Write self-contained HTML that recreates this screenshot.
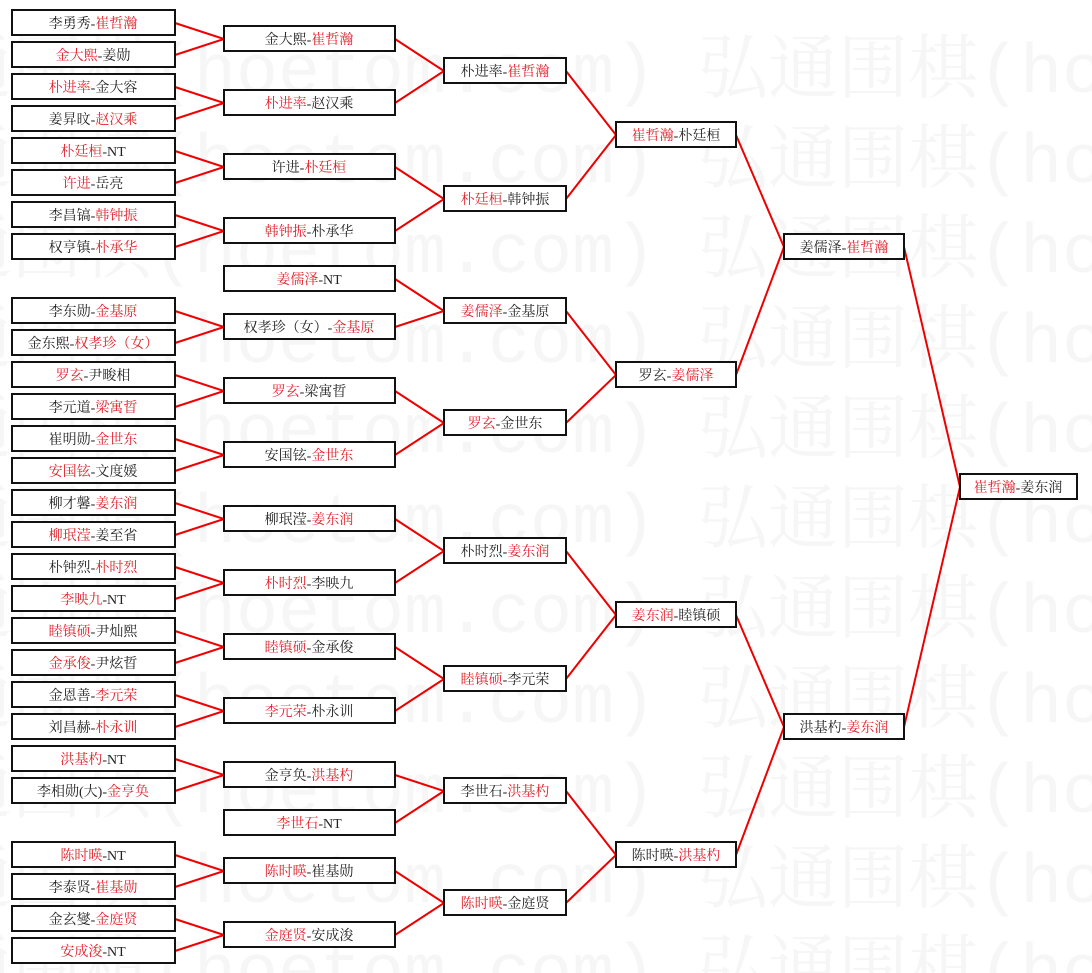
<!DOCTYPE html>
<html><head><meta charset="utf-8"><style>
html,body{margin:0;padding:0;background:#fff;}
svg{display:block;}
.wm{font-family:"Liberation Mono","Noto Serif CJK SC",monospace;font-size:70px;fill:#f6f6f6;}
.t{font-family:"Liberation Serif","Noto Serif CJK SC",serif;font-size:14px;fill:#222;}
.r{fill:#e0202a;}
rect{fill:#fff;stroke:#111;stroke-width:2;}
polyline{fill:none;stroke:#e00;stroke-width:2;}
</style></head><body>
<svg width="1092" height="973" xmlns="http://www.w3.org/2000/svg">
<g class="wm">
<text x="-128" y="92">弘通围棋(hoetom.com) 弘通围棋(hoetom.com)</text>
<text x="-128" y="182">弘通围棋(hoetom.com) 弘通围棋(hoetom.com)</text>
<text x="-128" y="272">弘通围棋(hoetom.com) 弘通围棋(hoetom.com)</text>
<text x="-128" y="362">弘通围棋(hoetom.com) 弘通围棋(hoetom.com)</text>
<text x="-128" y="452">弘通围棋(hoetom.com) 弘通围棋(hoetom.com)</text>
<text x="-128" y="542">弘通围棋(hoetom.com) 弘通围棋(hoetom.com)</text>
<text x="-128" y="632">弘通围棋(hoetom.com) 弘通围棋(hoetom.com)</text>
<text x="-128" y="722">弘通围棋(hoetom.com) 弘通围棋(hoetom.com)</text>
<text x="-128" y="812">弘通围棋(hoetom.com) 弘通围棋(hoetom.com)</text>
<text x="-128" y="902">弘通围棋(hoetom.com) 弘通围棋(hoetom.com)</text>
<text x="-128" y="992">弘通围棋(hoetom.com) 弘通围棋(hoetom.com)</text>
</g>
<g>
<polyline points="175,23 224,39 175,55"/><polyline points="175,87 224,103 175,119"/>
<polyline points="175,151 224,167 175,183"/><polyline points="175,215 224,231 175,247"/>
<polyline points="175,311 224,327 175,343"/><polyline points="175,375 224,391 175,407"/>
<polyline points="175,439 224,455 175,471"/><polyline points="175,503 224,519 175,535"/>
<polyline points="175,567 224,583 175,599"/><polyline points="175,631 224,647 175,663"/>
<polyline points="175,695 224,711 175,727"/><polyline points="175,759 224,775 175,791"/>
<polyline points="175,855 224,871 175,887"/><polyline points="175,919 224,935 175,951"/>
<polyline points="395,39 444,71 395,103"/><polyline points="395,167 444,199 395,231"/>
<polyline points="395,279 444,311 395,327"/><polyline points="395,391 444,423 395,455"/>
<polyline points="395,519 444,551 395,583"/><polyline points="395,647 444,679 395,711"/>
<polyline points="395,775 444,791 395,823"/><polyline points="395,871 444,903 395,935"/>
<polyline points="566,71 616,135 566,199"/><polyline points="566,311 616,375 566,423"/>
<polyline points="566,551 616,615 566,679"/><polyline points="566,791 616,855 566,903"/>
<polyline points="736,135 784,247 736,375"/><polyline points="736,615 784,727 736,855"/>
<polyline points="904,247 960,487 904,727"/>
</g>
<g class="t" text-anchor="middle">
<rect x="12" y="10" width="163" height="25"/><text x="93" y="28">李勇秀-<tspan class="r">崔哲瀚</tspan></text>
<rect x="12" y="42" width="163" height="25"/><text x="93" y="60"><tspan class="r">金大熙</tspan>-姜勋</text>
<rect x="12" y="74" width="163" height="25"/><text x="93" y="92"><tspan class="r">朴进率</tspan>-金大容</text>
<rect x="12" y="106" width="163" height="25"/><text x="93" y="124">姜昇旼-<tspan class="r">赵汉乘</tspan></text>
<rect x="12" y="138" width="163" height="25"/><text x="93" y="156"><tspan class="r">朴廷桓</tspan>-NT</text>
<rect x="12" y="170" width="163" height="25"/><text x="93" y="188"><tspan class="r">许进</tspan>-岳亮</text>
<rect x="12" y="202" width="163" height="25"/><text x="93" y="220">李昌镐-<tspan class="r">韩钟振</tspan></text>
<rect x="12" y="234" width="163" height="25"/><text x="93" y="252">权亨镇-<tspan class="r">朴承华</tspan></text>
<rect x="12" y="298" width="163" height="25"/><text x="93" y="316">李东勋-<tspan class="r">金基原</tspan></text>
<rect x="12" y="330" width="163" height="25"/><text x="93" y="348">金东熙-<tspan class="r">权孝珍（女）</tspan></text>
<rect x="12" y="362" width="163" height="25"/><text x="93" y="380"><tspan class="r">罗玄</tspan>-尹畯相</text>
<rect x="12" y="394" width="163" height="25"/><text x="93" y="412">李元道-<tspan class="r">梁寓晢</tspan></text>
<rect x="12" y="426" width="163" height="25"/><text x="93" y="444">崔明勋-<tspan class="r">金世东</tspan></text>
<rect x="12" y="458" width="163" height="25"/><text x="93" y="476"><tspan class="r">安国铉</tspan>-文度媛</text>
<rect x="12" y="490" width="163" height="25"/><text x="93" y="508">柳才馨-<tspan class="r">姜东润</tspan></text>
<rect x="12" y="522" width="163" height="25"/><text x="93" y="540"><tspan class="r">柳珉滢</tspan>-姜至省</text>
<rect x="12" y="554" width="163" height="25"/><text x="93" y="572">朴钟烈-<tspan class="r">朴时烈</tspan></text>
<rect x="12" y="586" width="163" height="25"/><text x="93" y="604"><tspan class="r">李映九</tspan>-NT</text>
<rect x="12" y="618" width="163" height="25"/><text x="93" y="636"><tspan class="r">睦镇硕</tspan>-尹灿熙</text>
<rect x="12" y="650" width="163" height="25"/><text x="93" y="668"><tspan class="r">金承俊</tspan>-尹炫晢</text>
<rect x="12" y="682" width="163" height="25"/><text x="93" y="700">金恩善-<tspan class="r">李元荣</tspan></text>
<rect x="12" y="714" width="163" height="25"/><text x="93" y="732">刘昌赫-<tspan class="r">朴永训</tspan></text>
<rect x="12" y="746" width="163" height="25"/><text x="93" y="764"><tspan class="r">洪基杓</tspan>-NT</text>
<rect x="12" y="778" width="163" height="25"/><text x="93" y="796">李相勋(大)-<tspan class="r">金亨奂</tspan></text>
<rect x="12" y="842" width="163" height="25"/><text x="93" y="860"><tspan class="r">陈时暎</tspan>-NT</text>
<rect x="12" y="874" width="163" height="25"/><text x="93" y="892">李泰贤-<tspan class="r">崔基勋</tspan></text>
<rect x="12" y="906" width="163" height="25"/><text x="93" y="924">金玄燮-<tspan class="r">金庭贤</tspan></text>
<rect x="12" y="938" width="163" height="25"/><text x="93" y="956"><tspan class="r">安成浚</tspan>-NT</text>
<rect x="224" y="26" width="171" height="25"/><text x="309" y="44">金大熙-<tspan class="r">崔哲瀚</tspan></text>
<rect x="224" y="90" width="171" height="25"/><text x="309" y="108"><tspan class="r">朴进率</tspan>-赵汉乘</text>
<rect x="224" y="154" width="171" height="25"/><text x="309" y="172">许进-<tspan class="r">朴廷桓</tspan></text>
<rect x="224" y="218" width="171" height="25"/><text x="309" y="236"><tspan class="r">韩钟振</tspan>-朴承华</text>
<rect x="224" y="266" width="171" height="25"/><text x="309" y="284"><tspan class="r">姜儒泽</tspan>-NT</text>
<rect x="224" y="314" width="171" height="25"/><text x="309" y="332">权孝珍（女）-<tspan class="r">金基原</tspan></text>
<rect x="224" y="378" width="171" height="25"/><text x="309" y="396"><tspan class="r">罗玄</tspan>-梁寓晢</text>
<rect x="224" y="442" width="171" height="25"/><text x="309" y="460">安国铉-<tspan class="r">金世东</tspan></text>
<rect x="224" y="506" width="171" height="25"/><text x="309" y="524">柳珉滢-<tspan class="r">姜东润</tspan></text>
<rect x="224" y="570" width="171" height="25"/><text x="309" y="588"><tspan class="r">朴时烈</tspan>-李映九</text>
<rect x="224" y="634" width="171" height="25"/><text x="309" y="652"><tspan class="r">睦镇硕</tspan>-金承俊</text>
<rect x="224" y="698" width="171" height="25"/><text x="309" y="716"><tspan class="r">李元荣</tspan>-朴永训</text>
<rect x="224" y="762" width="171" height="25"/><text x="309" y="780">金亨奂-<tspan class="r">洪基杓</tspan></text>
<rect x="224" y="810" width="171" height="25"/><text x="309" y="828"><tspan class="r">李世石</tspan>-NT</text>
<rect x="224" y="858" width="171" height="25"/><text x="309" y="876"><tspan class="r">陈时暎</tspan>-崔基勋</text>
<rect x="224" y="922" width="171" height="25"/><text x="309" y="940"><tspan class="r">金庭贤</tspan>-安成浚</text>
<rect x="444" y="58" width="122" height="25"/><text x="505" y="76">朴进率-<tspan class="r">崔哲瀚</tspan></text>
<rect x="444" y="186" width="122" height="25"/><text x="505" y="204"><tspan class="r">朴廷桓</tspan>-韩钟振</text>
<rect x="444" y="298" width="122" height="25"/><text x="505" y="316"><tspan class="r">姜儒泽</tspan>-金基原</text>
<rect x="444" y="410" width="122" height="25"/><text x="505" y="428"><tspan class="r">罗玄</tspan>-金世东</text>
<rect x="444" y="538" width="122" height="25"/><text x="505" y="556">朴时烈-<tspan class="r">姜东润</tspan></text>
<rect x="444" y="666" width="122" height="25"/><text x="505" y="684"><tspan class="r">睦镇硕</tspan>-李元荣</text>
<rect x="444" y="778" width="122" height="25"/><text x="505" y="796">李世石-<tspan class="r">洪基杓</tspan></text>
<rect x="444" y="890" width="122" height="25"/><text x="505" y="908"><tspan class="r">陈时暎</tspan>-金庭贤</text>
<rect x="616" y="122" width="120" height="25"/><text x="676" y="140"><tspan class="r">崔哲瀚</tspan>-朴廷桓</text>
<rect x="616" y="362" width="120" height="25"/><text x="676" y="380">罗玄-<tspan class="r">姜儒泽</tspan></text>
<rect x="616" y="602" width="120" height="25"/><text x="676" y="620"><tspan class="r">姜东润</tspan>-睦镇硕</text>
<rect x="616" y="842" width="120" height="25"/><text x="676" y="860">陈时暎-<tspan class="r">洪基杓</tspan></text>
<rect x="784" y="234" width="120" height="25"/><text x="844" y="252">姜儒泽-<tspan class="r">崔哲瀚</tspan></text>
<rect x="784" y="714" width="120" height="25"/><text x="844" y="732">洪基杓-<tspan class="r">姜东润</tspan></text>
<rect x="960" y="474" width="117" height="25"/><text x="1018" y="492"><tspan class="r">崔哲瀚</tspan>-姜东润</text>
</g>
</svg>
</body></html>
